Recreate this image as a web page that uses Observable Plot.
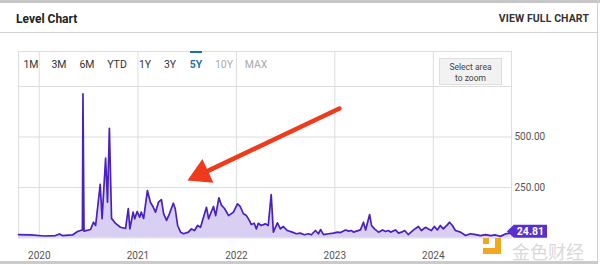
<!DOCTYPE html>
<html><head><meta charset="utf-8">
<script src="https://cdn.jsdelivr.net/npm/d3@7"></script>
<script src="https://cdn.jsdelivr.net/npm/@observablehq/plot@0.6"></script>
<style>
html,body{margin:0;padding:0}
body{width:600px;height:264px;overflow:hidden;background:#fff;font-family:Roboto,"Noto Sans",sans-serif;position:relative}
#topbar{position:absolute;left:0;top:0;width:600px;height:3px;background:#c6c6c6}
#rightbar{position:absolute;left:597px;top:0;width:1px;height:262px;background:#cfcfcf}
#bottombar{position:absolute;left:0;top:261px;width:598px;height:3px;background:#cbcbcb}
#header{position:relative;height:32px;width:597px;border-bottom:1px solid #d2d2d2}
#title{position:absolute;left:16px;top:12px;font-size:12px;font-weight:700;color:#222}
#full{position:absolute;right:8px;top:12px;font-size:10.5px;font-weight:700;color:#333;letter-spacing:0.1px}
#chart{position:relative;width:600px;height:231px}
#chart svg{position:absolute;left:0;top:0}
.tab{position:absolute;top:25px;font-size:10.5px;color:#333;transform:translateX(-50%);white-space:nowrap}
.tab.on{color:#1f6fb2;font-weight:700}
.tab.off{color:#aaa}
#uline{position:absolute;left:190px;top:18px;width:12px;height:2px;background:#1f6fb2}
#btn{position:absolute;left:439px;top:25px;width:63px;height:27px;background:#f2f2f2;border:1px solid #dedede;box-sizing:border-box;font-size:8.5px;color:#444;text-align:center;line-height:10.5px;padding-top:3px}
#wm{position:absolute;left:512px;top:242px;font-family:"Noto Sans CJK SC",sans-serif;font-size:18px;line-height:18px;color:rgba(212,212,212,0.9)}
#logo{position:absolute;left:483px;top:238px;width:20px;height:16px}
#logo .a{position:absolute;left:12px;top:0;width:6px;height:16px;background:#f2a81d}
#logo .b{position:absolute;left:0;top:10px;width:18px;height:6px;background:#f2a81d}
#logo .c{position:absolute;left:0;top:0;width:6px;height:6px;background:#f2a81d}
</style></head>
<body>
<div id="topbar"></div>
<div id="header"><div id="title">Level Chart</div><div id="full">VIEW FULL CHART</div></div>
<div id="chart"></div>
<div id="rightbar"></div>
<div id="bottombar"></div>
<div id="logo"><div class="a"></div><div class="b"></div><div class="c"></div></div>
<div id="wm">金色财经</div>
<script>
// ---- data ----
const dates = [
"2019-10-16","2019-11-30","2020-01-20","2020-03-01","2020-03-16","2020-03-27","2020-05-03","2020-05-22","2020-06-02","2020-06-09",
"2020-06-11","2020-06-15","2020-07-09","2020-07-20","2020-07-28","2020-08-14","2020-08-21","2020-09-03","2020-09-10","2020-09-17",
"2020-09-25","2020-10-10","2020-10-28","2020-11-16","2020-11-26","2020-12-02","2020-12-14","2020-12-20","2020-12-29","2021-01-07",
"2021-01-13","2021-01-22","2021-02-05","2021-02-16","2021-02-27","2021-03-07","2021-03-18","2021-03-29","2021-04-06","2021-04-17",
"2021-04-28","2021-05-12","2021-05-19","2021-05-28","2021-06-08","2021-06-19","2021-07-07","2021-07-18","2021-07-30","2021-08-10",
"2021-08-21","2021-09-01","2021-09-12","2021-09-20","2021-09-27","2021-10-08","2021-10-16","2021-10-28","2021-11-07","2021-11-18",
"2021-12-03","2021-12-21","2022-01-05","2022-01-15","2022-01-27","2022-02-07","2022-02-18","2022-02-25","2022-03-08","2022-03-16",
"2022-03-23","2022-04-03","2022-04-18","2022-04-29","2022-05-10","2022-05-18","2022-06-02","2022-06-13","2022-06-24","2022-07-09",
"2022-07-27","2022-08-11","2022-08-26","2022-09-10","2022-09-25","2022-10-06","2022-10-21","2022-11-01","2022-11-09","2022-11-20",
"2022-12-09","2022-12-27","2023-01-11","2023-01-22","2023-02-10","2023-02-21","2023-03-04","2023-03-11","2023-03-22","2023-04-06",
"2023-04-17","2023-04-25","2023-05-10","2023-05-17","2023-05-28","2023-06-12","2023-06-27","2023-07-08","2023-07-19","2023-07-27",
"2023-08-14","2023-08-25","2023-09-05","2023-09-17","2023-09-30","2023-10-20","2023-11-07","2023-11-18","2023-12-03","2023-12-14",
"2023-12-25","2024-01-05","2024-01-16","2024-01-27","2024-02-07","2024-02-22","2024-03-01","2024-03-12","2024-03-23","2024-04-11",
"2024-04-30","2024-05-18","2024-06-06","2024-06-24","2024-07-13","2024-07-31","2024-08-19","2024-09-06","2024-09-24","2024-10-13"
];
const values = [
17,15,10,12,20,12,15,32,37,40,
714,34,42,78,62,265,95,395,177,543,
97,72,53,47,146,45,128,95,131,103,
128,97,235,177,152,128,177,190,121,87,
121,172,146,62,29,21,29,45,37,62,
53,103,152,95,120,156,111,199,161,146,
111,128,169,156,120,111,87,67,73,45,
73,62,70,62,215,29,75,45,57,37,
29,21,24,16,21,16,37,21,42,17,
21,24,29,27,40,34,37,29,34,40,
78,40,116,62,45,29,40,32,37,29,
40,24,29,37,17,40,57,37,53,45,
37,57,40,62,45,65,78,62,37,29,
12,21,17,12,17,12,15,8,20,24.81
];
const xDomain = ["2019-10-16","2024-10-17"];
const yDomain = [0, 923];
const xTickDates = ["2020-01-01","2021-01-01","2022-01-01","2023-01-01","2024-01-01"];
const yGridTicks = [250, 500, 750];
const yLabelTicks = [250, 500];
const tabLabels = ["1M","3M","6M","YTD","1Y","3Y","5Y","10Y","MAX"];
const tabCenters = [31,59,87,117,145,170,196,224,256];
const activeTab = "5Y";
const disabledTabs = ["10Y","MAX"];
const lastLabel = "24.81";
// red annotation arrow (data coordinates): tail -> head
const arrowDates = ["2023-01-18","2021-08-23"];
const arrowValues = [641, 316];

// ---- build ----
const data = dates.map((d,i)=>({date:new Date(d), value:values[i]}));
const last = data[data.length-1];
const arrowData = [{x1:new Date(arrowDates[0]), y1:arrowValues[0], x2:new Date(arrowDates[1]), y2:arrowValues[1]}];
const gridC = "#dddddd";

const plot = Plot.plot({
  width:600, height:231,
  marginLeft:18, marginRight:89, marginTop:18, marginBottom:26.5,
  style:{fontFamily:"Roboto, sans-serif", fontSize:"10px", color:"#555", background:"transparent", overflow:"visible"},
  x:{type:"utc", domain:xDomain.map(d=>new Date(d))},
  y:{domain:yDomain},
  marks:[
    Plot.gridX(xTickDates.map(d=>new Date(d)), {stroke:gridC, strokeOpacity:1}),
    Plot.gridY(yGridTicks, {stroke:gridC, strokeOpacity:1}),
    Plot.frame({stroke:gridC}),
    Plot.areaY(data,{x:"date", y:"value", fill:"#d8cff3", fillOpacity:1}),
    Plot.lineY(data,{x:"date", y:"value", stroke:"#4a20c2", strokeWidth:1.7}),
    Plot.axisX(xTickDates.map(d=>new Date(d)), {tickSize:0, tickFormat:d3.utcFormat("%Y"), fontSize:10, fill:"#555", dy:5}),
    Plot.axisY(yLabelTicks, {anchor:"right", tickSize:0, tickPadding:3, tickFormat:d=>d.toFixed(2), fontSize:10, fill:"#555"}),
    Plot.link(arrowData, {x1:"x1", y1:"y1", x2:"x2", y2:"y2", stroke:"#ef3b1c", strokeWidth:4.5, strokeLinecap:"round"}),
    Plot.dot(arrowData, {x:"x2", y:"y2", symbol:"triangle", r:9.7, fill:"#ef3b1c", stroke:"none", rotate:245}),
    Plot.text([last], {x:"date", y:"value", text:()=>lastLabel, dx:20, dy:-1.5, fill:"#fff", fontWeight:"bold", fontSize:10.5, className:"lastlabel"})
  ]
});
const chart = document.getElementById("chart");
chart.appendChild(plot);

// tag background behind last value label (same transform as the text)
const t = plot.querySelector(".lastlabel text");
if (t) {
  const b = t.getBBox();
  const cy = b.y + b.height/2, x0 = b.x - 3, x1 = b.x + b.width + 3, h = 6.5;
  const p = document.createElementNS("http://www.w3.org/2000/svg","path");
  p.setAttribute("d", `M${x0-7},${cy} L${x0},${cy-h} L${x1},${cy-h} L${x1},${cy+h} L${x0},${cy+h} Z`);
  p.setAttribute("fill","#5a2fcf");
  const tr = t.getAttribute("transform");
  if (tr) p.setAttribute("transform", tr);
  t.parentNode.insertBefore(p, t);
}

// tabs and zoom button (HTML controls)
tabLabels.forEach((s,i)=>{
  const d = document.createElement("div");
  d.className = "tab" + (s===activeTab ? " on" : disabledTabs.includes(s) ? " off" : "");
  d.style.left = tabCenters[i] + "px";
  d.textContent = s;
  chart.appendChild(d);
});
const ul = document.createElement("div"); ul.id="uline"; chart.appendChild(ul);
const btn = document.createElement("div"); btn.id="btn"; btn.innerHTML="Select area<br>to zoom"; chart.appendChild(btn);
</script>
</body></html>
